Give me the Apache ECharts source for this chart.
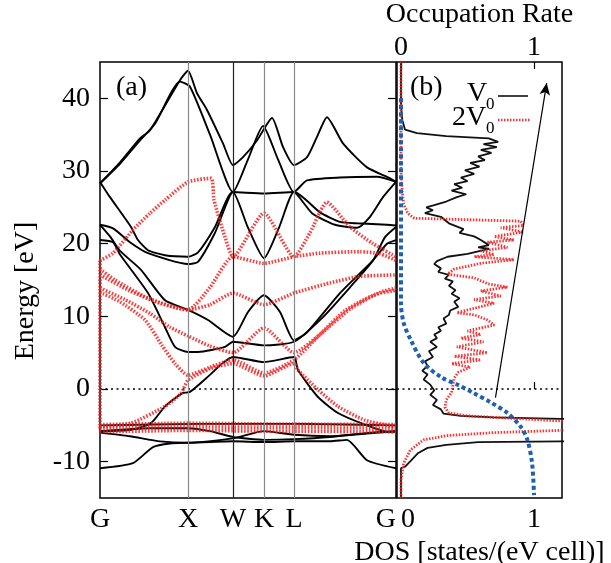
<!DOCTYPE html>
<html>
<head>
<meta charset="utf-8">
<script src="https://cdn.jsdelivr.net/npm/echarts@6/dist/echarts.min.js"></script>
<style>
  html, body { margin: 0; padding: 0; background: #fff; }
  #chart { width: 611px; height: 563px; }
</style>
</head>
<body>
<div id="chart"></div>
<script>
// band structure (a) + DOS / occupation (b)

// k-path: high symmetry points
const kTicks = [0, 0.88, 1.33, 1.64, 1.94, 2.96];
const kLabels = ['G', 'X', 'W', 'K', 'L', 'G'];
const energyTicks = [-10, 0, 10, 20, 30, 40];
const fermiEnergy = 0;

// V0 bands [k, E]
const v0Top1 = [[0,28.3],[0.2,31.2],[0.4,34.5],[0.5,35.6],[0.8,42.5],[0.88,43.8],[0.97,40.7],[1.07,38.4],[1.23,33.8],[1.33,30.8],[1.43,31.9],[1.57,34.2],[1.72,37.3],[1.83,33.3],[1.94,30.8],[2.07,31.9],[2.17,34.7],[2.27,37.4],[2.43,33.8],[2.67,30.5],[2.9,29],[2.96,28.5]];
const v0Top2 = [[0,28.3],[0.2,31],[0.4,34.2],[0.55,36.5],[0.8,42.3],[0.9,41.6],[1.1,35],[1.33,27.1],[1.48,31.6],[1.63,36.2],[1.78,31.6],[1.94,27.1],[2.07,28.7],[2.4,29.1],[2.77,29.2],[2.96,28.5]];
const v0Band3 = [[0,28.5],[0.1,26.4],[0.31,22.3],[0.38,20.5],[0.48,19.1],[0.65,18.4],[0.88,18.2],[0.98,18.8],[1.15,22.3],[1.33,27.1],[1.64,26.9],[1.94,27.1],[2.2,24.3],[2.4,23],[2.57,22.8],[2.87,22.6],[2.96,22.5]];
const v0Band4 = [[0,22.6],[0.13,22.1],[0.31,20.1],[0.48,18.7],[0.88,17.2],[0.98,17.5],[1.15,21.5],[1.33,27.1],[1.48,22.2],[1.64,18.0],[1.79,22.2],[1.94,27.1],[2.12,24.2],[2.35,22.6],[2.57,22.2],[2.7,23.7],[2.83,26.4],[2.96,28.5]];
const v0Band5 = [[0,22.6],[0.1,21],[0.2,19],[0.41,16.4],[0.65,12.2],[0.88,10.9],[1.08,9.5],[1.33,7.2],[1.48,10.6],[1.64,12.9],[1.8,10.6],[1.94,6.7],[2.07,7.8],[2.4,13.2],[2.73,17.7],[2.87,20],[2.96,20.5]];
const v0Band6 = [[0,20.5],[0.13,20.2],[0.2,18.5],[0.48,13.2],[0.65,8.5],[0.75,5.8],[0.88,5.1],[0.98,5.1],[1.25,5.8],[1.33,6.5],[1.64,6.0],[1.94,6.5],[2.23,9.9],[2.5,14],[2.73,17.7],[2.85,20.9],[2.96,22.3]];
const v0Band7 = [[0,-5.8],[0.31,-5.6],[0.51,-4.7],[0.65,-2.4],[0.82,-0.6],[0.9,-0.4],[1.08,1.7],[1.23,3.6],[1.33,4.4],[1.64,3.7],[1.94,4.4],[1.98,2.6],[2.18,-1.1],[2.38,-3.3],[2.65,-4.9],[2.88,-5.9],[2.96,-5.9]];
const v0Band8 = [[0,-6.0],[0.3,-6.5],[0.6,-7.2],[0.88,-7.4],[1.33,-6.8],[1.64,-5.8],[1.94,-6.3],[2.3,-6.5],[2.7,-6.1],[2.96,-5.8]];
const v0Band9 = [[0,-5.8],[0.5,-5.4],[0.88,-5.4],[1.1,-5.8],[1.33,-6.6],[1.64,-7.0],[1.94,-6.9],[2.3,-6.6],[2.7,-6.0],[2.96,-5.8]];
const v0Band10 = [[0,-10.9],[0.33,-10.2],[0.53,-8.0],[0.7,-7.5],[0.88,-7.4],[1.33,-7.2],[1.64,-7.3],[1.94,-7.2],[2.3,-7.2],[2.47,-7.0],[2.67,-9.8],[2.96,-10.9]];
const v0Band11 = [[0,-5.0],[1.0,-4.8],[2.0,-4.8],[2.96,-5.0]];

// 2V0 bands [k, E]
const v2Band1 = [[0,17.7],[0.13,18.7],[0.33,21.9],[0.5,24.2],[0.65,26],[0.88,28.5],[1.11,29],[1.14,26],[1.25,20.9],[1.33,18.2],[1.64,24.2],[1.94,18.2],[2.1,21.5],[2.27,25.7],[2.5,22.3],[2.73,20],[2.96,18.2]];
const v2Band2 = [[0,16.5],[0.15,15],[0.48,12.5],[0.88,10.9],[1.1,14],[1.33,18.2],[1.64,17.3],[1.94,18.2],[2.2,18.7],[2.6,18.9],[2.8,18.6],[2.96,17.7]];
const v2Band3 = [[0,13.9],[0.25,12.3],[0.5,10.4],[0.7,8.5],[0.88,7.3],[1.1,5.9],[1.33,5.0],[1.64,8.4],[1.94,5.0],[2.2,7.5],[2.5,11],[2.8,13.3],[2.96,13.9]];
const v2Band4 = [[0,13.3],[0.2,12],[0.45,9.5],[0.62,6],[0.75,3.5],[0.88,1.9],[1.1,3.0],[1.33,4.0],[1.64,2.2],[1.94,4.0],[2.2,7.5],[2.45,10.8],[2.75,13],[2.96,13.6]];
const v2Band5 = [[0,15.7],[0.3,13.5],[0.6,11.8],[0.88,10.9],[1.1,11.6],[1.33,13.2],[1.64,11.6],[1.94,13.2],[2.3,14.6],[2.6,15.5],[2.96,15.7]];
const v2Band6 = [[0,-5.2],[0.31,-4.7],[0.65,-2.4],[0.81,-0.6],[0.88,1.2],[1.1,2.8],[1.33,3.5],[1.64,1.8],[1.94,3.5],[1.98,2.6],[2.18,-0.1],[2.38,-2.4],[2.65,-4.3],[2.88,-5.0],[2.96,-5.2]];
const v2Flat1 = [[0,-4.9],[0.88,-4.7],[1.64,-4.8],[2.96,-4.9]];
const v2Flat2 = [[0,-5.4],[0.88,-5.2],[1.64,-5.3],[2.96,-5.4]];
const v2Flat3 = [[0,-5.9],[0.88,-5.7],[1.64,-5.8],[2.96,-5.9]];
const v2GammaEdge = [[0,17.7],[0,-5.5]];

// DOS [states/(eV cell), E]
const dosV0 = [[0,45],[0,39],[0.01,37],[0.03,35.7],[0.12,35.2],[0.34,34.8],[0.66,34.5],[0.73,34],[0.62,33.7],[0.72,33.3],[0.6,32.9],[0.68,32.5],[0.58,32],[0.63,31.5],[0.52,31.1],[0.59,30.6],[0.48,30.1],[0.55,29.6],[0.45,29.1],[0.5,28.6],[0.4,28.2],[0.46,27.7],[0.38,27.3],[0.49,26.8],[0.42,26.4],[0.34,25.8],[0.25,25.3],[0.19,25],[0.24,24.6],[0.18,24.2],[0.3,23.7],[0.36,22.8],[0.47,22],[0.44,21.5],[0.55,21],[0.6,20.5],[0.66,19.8],[0.58,19.5],[0.66,19.3],[0.5,18.6],[0.35,18.2],[0.27,17.6],[0.25,17.2],[0.3,16.6],[0.28,16.1],[0.36,15.7],[0.33,15.2],[0.39,14.8],[0.36,14.2],[0.41,13.6],[0.38,13.1],[0.44,12.5],[0.4,12],[0.43,11.3],[0.37,10.8],[0.36,10.2],[0.32,9.7],[0.34,9],[0.28,8.5],[0.3,8],[0.25,7.5],[0.27,7],[0.22,6.5],[0.27,5.8],[0.21,5.2],[0.24,4.4],[0.18,3.8],[0.2,3.2],[0.16,2.5],[0.2,2.0],[0.17,1.3],[0.22,0.6],[0.25,-0.2],[0.22,-0.8],[0.27,-1.5],[0.24,-2.2],[0.3,-2.8],[0.32,-3.4],[0.45,-3.7],[0.7,-3.9],[1.2,-4.1],[3,-4.5],[3,-6.9],[1.2,-7.2],[0.58,-7.3],[0.34,-7.7],[0.2,-8.1],[0.13,-8.8],[0.03,-10.7],[0,-10.9],[0,-15]];
const dos2V0 = [[0,45],[0,30],[0.01,27],[0.02,25.5],[0.05,24.2],[0.1,23.5],[0.5,23.3],[0.9,23.1],[0.92,22.5],[0.75,22.2],[0.92,21.6],[0.7,21],[0.85,20.5],[0.65,20.2],[0.8,19.5],[0.6,19],[0.7,18.5],[0.55,18.2],[0.85,17.8],[0.6,17.3],[0.4,16.5],[0.35,15.8],[0.55,15.3],[0.65,14.5],[0.8,14],[0.6,13.5],[0.75,12.8],[0.55,12.3],[0.7,11.8],[0.42,10.5],[0.55,10.2],[0.65,9.5],[0.7,8.8],[0.5,8],[0.6,7.5],[0.45,7.0],[0.62,6.5],[0.42,5.8],[0.65,5.0],[0.4,4.5],[0.6,4.0],[0.38,3.5],[0.52,3.0],[0.43,2.3],[0.4,1.5],[0.39,0.5],[0.38,-0.5],[0.34,-1.5],[0.33,-2.5],[0.36,-3.3],[0.5,-3.7],[0.8,-4.0],[1.2,-4.4],[2,-4.7],[3,-5.2],[2,-5.5],[1.2,-5.7],[0.7,-6.0],[0.35,-6.4],[0.17,-7],[0.07,-8.4],[0.02,-10.2],[0,-12.5],[0,-15]];

// occupation rate [rate, E]
const occupation = [[0,40],[0,19],[0,11.8],[0.02,9.1],[0.075,6.7],[0.17,3.6],[0.3,1.65],[0.43,0.55],[0.545,-0.55],[0.67,-1.8],[0.8,-3.3],[0.9,-5.2],[0.95,-7.0],[0.985,-10.2],[1.0,-14.6]];

// arrow in panel (b): [dos, E] start -> end
const arrowPath = [[0.71, -1.2], [1.095, 42.1]];

const FONT = 'Liberation Serif';
const v0Bands = [v0Top1, v0Top2, v0Band3, v0Band4, v0Band5, v0Band6, v0Band7, v0Band8, v0Band9, v0Band10, v0Band11];
const v2Bands = [v2Band1, v2Band2, v2Band3, v2Band4, v2Band5, v2Band6, v2Flat1, v2Flat2, v2Flat3, v2GammaEdge];

const chart = echarts.init(document.getElementById('chart'));

const blackStyle = { color: '#000', width: 1.9 };
const redStyle = { color: 'rgba(245,30,30,0.85)', width: 3.6, type: [1.6, 1.6] };

const series = [];

// vertical lines + Fermi level in (a)
series.push({
  type: 'line', xAxisIndex: 0, yAxisIndex: 0, symbol: 'none', silent: true,
  data: [[kTicks[0], fermiEnergy], [kTicks[kTicks.length - 1], fermiEnergy]],
  lineStyle: { color: '#000', width: 1.5, type: [2, 3.5] },
  markLine: {
    silent: true, symbol: 'none', label: { show: false }, animation: false,
    data: kTicks.slice(1, 5).map((v, i) => ({
      xAxis: v,
      lineStyle: { color: i === 1 ? '#222' : '#8a8a8a', width: 1.2, type: 'solid' }
    }))
  }
});

v0Bands.forEach(b => series.push({
  type: 'line', xAxisIndex: 0, yAxisIndex: 0, symbol: 'none', smooth: 0.2,
  data: b, lineStyle: blackStyle
}));
v2Bands.forEach(b => series.push({
  type: 'line', xAxisIndex: 0, yAxisIndex: 0, symbol: 'none', smooth: 0.2,
  data: b, lineStyle: redStyle
}));

// panel (b)
series.push({
  type: 'line', xAxisIndex: 1, yAxisIndex: 2, symbol: 'none', silent: true,
  data: [[-0.03, fermiEnergy], [1.21, fermiEnergy]],
  lineStyle: { color: '#000', width: 1.5, type: [2, 3.5] }
});
series.push({
  type: 'line', xAxisIndex: 1, yAxisIndex: 2, symbol: 'none',
  data: dosV0, lineStyle: { color: '#111', width: 1.8 }
});
series.push({
  type: 'line', xAxisIndex: 1, yAxisIndex: 2, symbol: 'none',
  data: dos2V0, lineStyle: { color: 'rgba(245,30,30,0.9)', width: 2.8, type: [1.5, 1.5] }
});
series.push({
  type: 'line', xAxisIndex: 2, yAxisIndex: 2, symbol: 'none', smooth: 0.3,
  data: occupation, lineStyle: { color: '#2060b0', width: 4, type: [4, 3] }
});
series.push({
  type: 'line', xAxisIndex: 1, yAxisIndex: 2, symbol: 'none', silent: true,
  data: arrowPath, lineStyle: { width: 0 },
  markLine: {
    silent: true, symbol: ['none', 'arrow'], symbolSize: [8, 12], label: { show: false }, animation: false,
    lineStyle: { color: '#000', width: 1.2, type: 'solid' },
    data: [[{ coord: arrowPath[0] }, { coord: arrowPath[1] }]]
  }
});

const labelStyle = { color: '#000', fontFamily: FONT, fontSize: 28 };

chart.setOption({
  animation: false,
  grid: [
    { left: 100, top: 62, width: 296, height: 436, show: true, borderColor: '#000', borderWidth: 1.5,
      containLabel: false, outerBoundsMode: 'none' },
    { left: 397, top: 62, width: 165, height: 436, show: true, borderColor: '#000', borderWidth: 1.5,
      containLabel: false, outerBoundsMode: 'none' }
  ],
  xAxis: [
    {
      type: 'value', gridIndex: 0, min: 0, max: kTicks[kTicks.length - 1],
      axisLine: { show: false }, axisTick: { show: false }, splitLine: { show: false },
      axisLabel: Object.assign({
        customValues: kTicks, margin: 8, alignMaxLabel: 'right',
        formatter: v => kLabels[kTicks.indexOf(v)]
      }, labelStyle)
    },
    {
      type: 'value', gridIndex: 1, min: -0.03, max: 1.21,
      axisLine: { show: false }, splitLine: { show: false },
      axisTick: { inside: true, length: 7, customValues: [1], lineStyle: { color: '#000', width: 1.2 } },
      axisLabel: Object.assign({
        customValues: [0, 1], margin: 8,
        formatter: v => (v === 0 ? '{z|0}' : String(v)),
        rich: { z: { padding: [0, 0, 0, 14], fontSize: 28, fontFamily: FONT, color: '#000' } }
      }, labelStyle),
      name: 'DOS [states/(eV cell)]', nameLocation: 'middle', nameGap: 38,
      nameTextStyle: labelStyle
    },
    {
      type: 'value', gridIndex: 1, position: 'top', min: -0.03, max: 1.21,
      axisLine: { show: false }, splitLine: { show: false },
      axisTick: { inside: true, length: 7, customValues: [0, 1], lineStyle: { color: '#000', width: 1.2 } },
      axisLabel: Object.assign({ customValues: [0, 1], margin: 0 }, labelStyle),
      name: 'Occupation Rate', nameLocation: 'middle', nameGap: 19,
      nameTextStyle: labelStyle
    }
  ],
  yAxis: [
    {
      type: 'value', gridIndex: 0, min: -15, max: 45,
      axisLine: { show: false }, splitLine: { show: false },
      axisTick: { inside: true, length: 8, customValues: energyTicks, lineStyle: { color: '#000', width: 1.2 } },
      axisLabel: Object.assign({ customValues: energyTicks, margin: 10 }, labelStyle)
    },
    {
      type: 'value', gridIndex: 0, position: 'right', min: -15, max: 45,
      axisLine: { show: false }, splitLine: { show: false }, axisLabel: { show: false },
      axisTick: { inside: true, length: 8, customValues: energyTicks, lineStyle: { color: '#000', width: 1.2 } }
    },
    {
      type: 'value', gridIndex: 1, min: -15, max: 45,
      axisLine: { show: false }, splitLine: { show: false },
      axisLabel: { show: false }, axisTick: { show: false }
    }
  ],
  graphic: [
    { type: 'text', x: 26, y: 291, rotation: Math.PI / 2,
      style: { text: 'Energy [eV]', font: '28px "Liberation Serif"', fill: '#000', align: 'center', verticalAlign: 'middle' } },
    { type: 'text', x: 116, y: 74, style: { text: '(a)', font: '28px "Liberation Serif"', fill: '#000' } },
    { type: 'text', x: 410, y: 74, style: { text: '(b)', font: '28px "Liberation Serif"', fill: '#000' } },
    { type: 'text', x: 467, y: 80, style: { text: 'V', font: '28px "Liberation Serif"', fill: '#000' } },
    { type: 'text', x: 486, y: 96, style: { text: '0', font: '17px "Liberation Serif"', fill: '#000' } },
    { type: 'line', shape: { x1: 498, y1: 96, x2: 528, y2: 96 }, style: { stroke: '#000', lineWidth: 1.5 } },
    { type: 'text', x: 452, y: 104, style: { text: '2V', font: '28px "Liberation Serif"', fill: '#000' } },
    { type: 'text', x: 486, y: 120, style: { text: '0', font: '17px "Liberation Serif"', fill: '#000' } },
    { type: 'line', shape: { x1: 498, y1: 120, x2: 530, y2: 120 }, style: { stroke: 'rgba(245,30,30,0.9)', lineWidth: 2.6, lineDash: [1.5, 1.5] } }
  ],
  series
});
</script>
</body>
</html>
